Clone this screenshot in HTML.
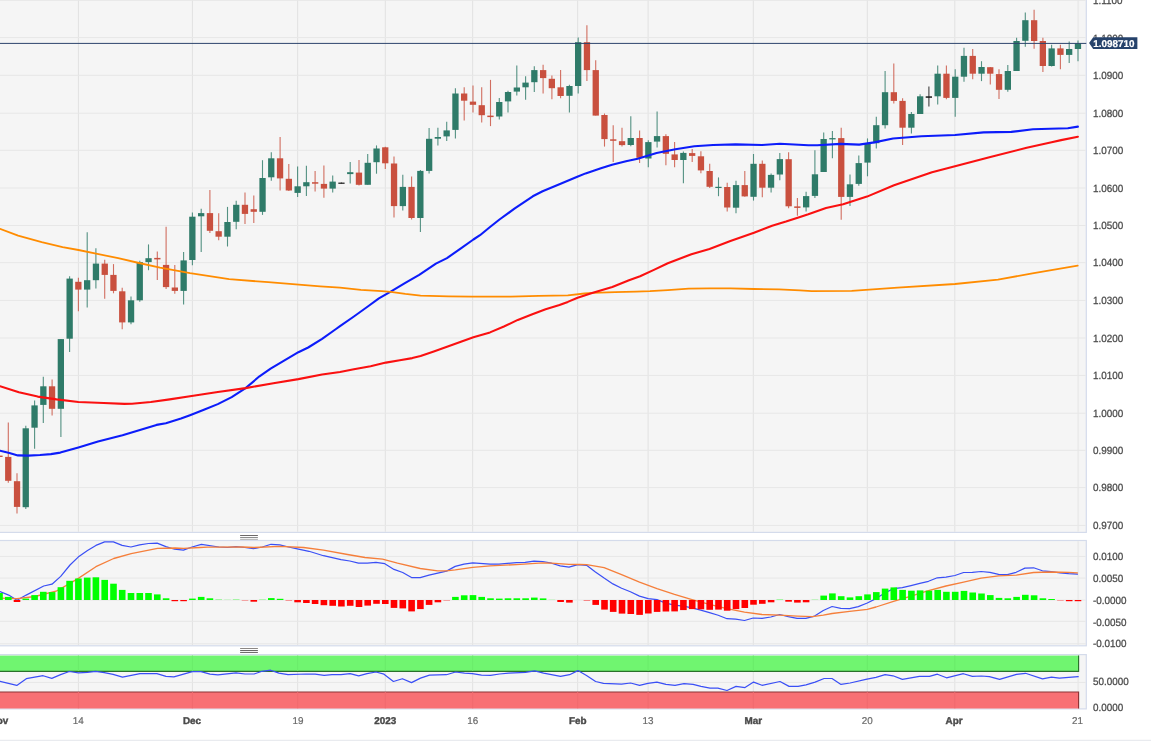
<!DOCTYPE html>
<html lang="en"><head><meta charset="utf-8"><title>EUR/USD daily chart</title>
<style>html,body{margin:0;padding:0;background:#fff}body{width:1151px;height:743px;overflow:hidden}svg{display:block}text{font-family:"Liberation Sans",Arial,sans-serif;text-rendering:geometricPrecision}</style></head><body>
<svg width="1151" height="743" viewBox="0 0 1151 743">
<rect width="1151" height="743" fill="#fff"/>
<rect x="-2" y="-2" width="1088.3" height="534.4" fill="#f5f5f5" stroke="#d4dbeb" stroke-width="1.2"/>
<rect x="-2" y="540.5" width="1088.3" height="105.29999999999995" fill="#f5f5f5" stroke="#d4dbeb" stroke-width="1.2"/>
<rect x="-2" y="654.6" width="1088.3" height="54.299999999999955" fill="#f5f5f5" stroke="#d4dbeb" stroke-width="1.2"/>
<line x1="78.4" y1="0" x2="78.4" y2="531.8" stroke="#e1e1e1" stroke-width="1"/>
<line x1="192.4" y1="0" x2="192.4" y2="531.8" stroke="#e1e1e1" stroke-width="1"/>
<line x1="297.7" y1="0" x2="297.7" y2="531.8" stroke="#e1e1e1" stroke-width="1"/>
<line x1="385.3" y1="0" x2="385.3" y2="531.8" stroke="#e1e1e1" stroke-width="1"/>
<line x1="472.7" y1="0" x2="472.7" y2="531.8" stroke="#e1e1e1" stroke-width="1"/>
<line x1="577.7" y1="0" x2="577.7" y2="531.8" stroke="#e1e1e1" stroke-width="1"/>
<line x1="648.1" y1="0" x2="648.1" y2="531.8" stroke="#e1e1e1" stroke-width="1"/>
<line x1="753.3" y1="0" x2="753.3" y2="531.8" stroke="#e1e1e1" stroke-width="1"/>
<line x1="867.3" y1="0" x2="867.3" y2="531.8" stroke="#e1e1e1" stroke-width="1"/>
<line x1="954.8" y1="0" x2="954.8" y2="531.8" stroke="#e1e1e1" stroke-width="1"/>
<line x1="1078.2" y1="0" x2="1078.2" y2="531.8" stroke="#ebebeb" stroke-width="1.8"/>
<line x1="0" y1="0.3" x2="1085.7" y2="0.3" stroke="#e7e7e7" stroke-width="1"/>
<line x1="0" y1="37.6" x2="1085.7" y2="37.6" stroke="#e7e7e7" stroke-width="1"/>
<line x1="0" y1="75.3" x2="1085.7" y2="75.3" stroke="#e7e7e7" stroke-width="1"/>
<line x1="0" y1="113.2" x2="1085.7" y2="113.2" stroke="#e7e7e7" stroke-width="1"/>
<line x1="0" y1="150.3" x2="1085.7" y2="150.3" stroke="#e7e7e7" stroke-width="1"/>
<line x1="0" y1="188.0" x2="1085.7" y2="188.0" stroke="#e7e7e7" stroke-width="1"/>
<line x1="0" y1="225.5" x2="1085.7" y2="225.5" stroke="#e7e7e7" stroke-width="1"/>
<line x1="0" y1="262.7" x2="1085.7" y2="262.7" stroke="#e7e7e7" stroke-width="1"/>
<line x1="0" y1="300.4" x2="1085.7" y2="300.4" stroke="#e7e7e7" stroke-width="1"/>
<line x1="0" y1="338.0" x2="1085.7" y2="338.0" stroke="#e7e7e7" stroke-width="1"/>
<line x1="0" y1="375.4" x2="1085.7" y2="375.4" stroke="#e7e7e7" stroke-width="1"/>
<line x1="0" y1="413.2" x2="1085.7" y2="413.2" stroke="#e7e7e7" stroke-width="1"/>
<line x1="0" y1="450.3" x2="1085.7" y2="450.3" stroke="#e7e7e7" stroke-width="1"/>
<line x1="0" y1="487.6" x2="1085.7" y2="487.6" stroke="#e7e7e7" stroke-width="1"/>
<line x1="0" y1="525.4" x2="1085.7" y2="525.4" stroke="#e7e7e7" stroke-width="1"/>
<line x1="78.4" y1="541.1" x2="78.4" y2="645.2" stroke="#e1e1e1" stroke-width="1"/>
<line x1="192.4" y1="541.1" x2="192.4" y2="645.2" stroke="#e1e1e1" stroke-width="1"/>
<line x1="297.7" y1="541.1" x2="297.7" y2="645.2" stroke="#e1e1e1" stroke-width="1"/>
<line x1="385.3" y1="541.1" x2="385.3" y2="645.2" stroke="#e1e1e1" stroke-width="1"/>
<line x1="472.7" y1="541.1" x2="472.7" y2="645.2" stroke="#e1e1e1" stroke-width="1"/>
<line x1="577.7" y1="541.1" x2="577.7" y2="645.2" stroke="#e1e1e1" stroke-width="1"/>
<line x1="648.1" y1="541.1" x2="648.1" y2="645.2" stroke="#e1e1e1" stroke-width="1"/>
<line x1="753.3" y1="541.1" x2="753.3" y2="645.2" stroke="#e1e1e1" stroke-width="1"/>
<line x1="867.3" y1="541.1" x2="867.3" y2="645.2" stroke="#e1e1e1" stroke-width="1"/>
<line x1="954.8" y1="541.1" x2="954.8" y2="645.2" stroke="#e1e1e1" stroke-width="1"/>
<line x1="1078.2" y1="541.1" x2="1078.2" y2="645.2" stroke="#ebebeb" stroke-width="1.8"/>
<line x1="0" y1="556.4" x2="1085.7" y2="556.4" stroke="#e7e7e7" stroke-width="1"/>
<line x1="0" y1="578.1" x2="1085.7" y2="578.1" stroke="#e7e7e7" stroke-width="1"/>
<line x1="0" y1="600.1" x2="1085.7" y2="600.1" stroke="#e7e7e7" stroke-width="1"/>
<line x1="0" y1="621.3" x2="1085.7" y2="621.3" stroke="#e7e7e7" stroke-width="1"/>
<line x1="0" y1="643.8" x2="1085.7" y2="643.8" stroke="#e7e7e7" stroke-width="1"/>
<line x1="78.4" y1="655.2" x2="78.4" y2="708.3" stroke="#e1e1e1" stroke-width="1"/>
<line x1="192.4" y1="655.2" x2="192.4" y2="708.3" stroke="#e1e1e1" stroke-width="1"/>
<line x1="297.7" y1="655.2" x2="297.7" y2="708.3" stroke="#e1e1e1" stroke-width="1"/>
<line x1="385.3" y1="655.2" x2="385.3" y2="708.3" stroke="#e1e1e1" stroke-width="1"/>
<line x1="472.7" y1="655.2" x2="472.7" y2="708.3" stroke="#e1e1e1" stroke-width="1"/>
<line x1="577.7" y1="655.2" x2="577.7" y2="708.3" stroke="#e1e1e1" stroke-width="1"/>
<line x1="648.1" y1="655.2" x2="648.1" y2="708.3" stroke="#e1e1e1" stroke-width="1"/>
<line x1="753.3" y1="655.2" x2="753.3" y2="708.3" stroke="#e1e1e1" stroke-width="1"/>
<line x1="867.3" y1="655.2" x2="867.3" y2="708.3" stroke="#e1e1e1" stroke-width="1"/>
<line x1="954.8" y1="655.2" x2="954.8" y2="708.3" stroke="#e1e1e1" stroke-width="1"/>
<line x1="1078.2" y1="655.2" x2="1078.2" y2="708.3" stroke="#ebebeb" stroke-width="1.8"/>
<line x1="-0.5" y1="455.6" x2="-0.5" y2="457.0" stroke="#c9503f" stroke-width="1.1" stroke-opacity="0.82"/>
<rect x="-3.7" y="455.6" width="6.3" height="1.4" fill="#c9503f"/>
<line x1="8.3" y1="422.4" x2="8.3" y2="482.7" stroke="#c9503f" stroke-width="1.1" stroke-opacity="0.82"/>
<rect x="5.1" y="456.9" width="6.3" height="23.9" fill="#c9503f"/>
<line x1="17.0" y1="473.3" x2="17.0" y2="513.5" stroke="#c9503f" stroke-width="1.1" stroke-opacity="0.82"/>
<rect x="13.9" y="481.2" width="6.3" height="25.7" fill="#c9503f"/>
<line x1="25.8" y1="425.8" x2="25.8" y2="509.1" stroke="#2f7b69" stroke-width="1.1" stroke-opacity="0.82"/>
<rect x="22.6" y="428.3" width="6.3" height="78.9" fill="#2f7b69"/>
<line x1="34.6" y1="400.4" x2="34.6" y2="448.8" stroke="#2f7b69" stroke-width="1.1" stroke-opacity="0.82"/>
<rect x="31.4" y="405.4" width="6.3" height="22.3" fill="#2f7b69"/>
<line x1="43.3" y1="376.8" x2="43.3" y2="423.0" stroke="#2f7b69" stroke-width="1.1" stroke-opacity="0.82"/>
<rect x="40.2" y="386.3" width="6.3" height="18.6" fill="#2f7b69"/>
<line x1="52.1" y1="379.5" x2="52.1" y2="415.4" stroke="#c9503f" stroke-width="1.1" stroke-opacity="0.82"/>
<rect x="48.9" y="386.3" width="6.3" height="22.5" fill="#c9503f"/>
<line x1="60.9" y1="339.1" x2="60.9" y2="437.1" stroke="#2f7b69" stroke-width="1.1" stroke-opacity="0.82"/>
<rect x="57.7" y="339.1" width="6.3" height="69.7" fill="#2f7b69"/>
<line x1="69.6" y1="276.2" x2="69.6" y2="351.9" stroke="#2f7b69" stroke-width="1.1" stroke-opacity="0.82"/>
<rect x="66.5" y="278.6" width="6.3" height="60.1" fill="#2f7b69"/>
<line x1="78.4" y1="277.7" x2="78.4" y2="311.3" stroke="#c9503f" stroke-width="1.1" stroke-opacity="0.82"/>
<rect x="75.2" y="281.8" width="6.3" height="7.8" fill="#c9503f"/>
<line x1="87.2" y1="232.2" x2="87.2" y2="307.5" stroke="#2f7b69" stroke-width="1.1" stroke-opacity="0.82"/>
<rect x="84.0" y="280.2" width="6.3" height="9.4" fill="#2f7b69"/>
<line x1="95.9" y1="248.2" x2="95.9" y2="288.6" stroke="#2f7b69" stroke-width="1.1" stroke-opacity="0.82"/>
<rect x="92.8" y="263.6" width="6.3" height="16.6" fill="#2f7b69"/>
<line x1="104.7" y1="259.8" x2="104.7" y2="298.8" stroke="#c9503f" stroke-width="1.1" stroke-opacity="0.82"/>
<rect x="101.6" y="263.6" width="6.3" height="11.3" fill="#c9503f"/>
<line x1="113.5" y1="264.1" x2="113.5" y2="293.3" stroke="#c9503f" stroke-width="1.1" stroke-opacity="0.82"/>
<rect x="110.3" y="274.9" width="6.3" height="16.0" fill="#c9503f"/>
<line x1="122.2" y1="287.7" x2="122.2" y2="329.2" stroke="#c9503f" stroke-width="1.1" stroke-opacity="0.82"/>
<rect x="119.1" y="291.3" width="6.3" height="31.1" fill="#c9503f"/>
<line x1="131.0" y1="296.6" x2="131.0" y2="324.3" stroke="#2f7b69" stroke-width="1.1" stroke-opacity="0.82"/>
<rect x="127.9" y="300.3" width="6.3" height="22.1" fill="#2f7b69"/>
<line x1="139.8" y1="260.7" x2="139.8" y2="301.8" stroke="#2f7b69" stroke-width="1.1" stroke-opacity="0.82"/>
<rect x="136.6" y="262.1" width="6.3" height="38.2" fill="#2f7b69"/>
<line x1="148.5" y1="244.4" x2="148.5" y2="270.2" stroke="#2f7b69" stroke-width="1.1" stroke-opacity="0.82"/>
<rect x="145.4" y="258.2" width="6.3" height="3.9" fill="#2f7b69"/>
<line x1="157.3" y1="251.6" x2="157.3" y2="280.0" stroke="#c9503f" stroke-width="1.1" stroke-opacity="0.82"/>
<rect x="154.2" y="257.9" width="6.3" height="1.5" fill="#c9503f"/>
<line x1="166.1" y1="226.7" x2="166.1" y2="289.0" stroke="#c9503f" stroke-width="1.1" stroke-opacity="0.82"/>
<rect x="162.9" y="264.9" width="6.3" height="22.2" fill="#c9503f"/>
<line x1="174.8" y1="265.1" x2="174.8" y2="293.7" stroke="#c9503f" stroke-width="1.1" stroke-opacity="0.82"/>
<rect x="171.7" y="287.5" width="6.3" height="3.4" fill="#c9503f"/>
<line x1="183.6" y1="251.9" x2="183.6" y2="304.5" stroke="#2f7b69" stroke-width="1.1" stroke-opacity="0.82"/>
<rect x="180.5" y="260.4" width="6.3" height="30.5" fill="#2f7b69"/>
<line x1="192.4" y1="212.4" x2="192.4" y2="265.3" stroke="#2f7b69" stroke-width="1.1" stroke-opacity="0.82"/>
<rect x="189.2" y="216.7" width="6.3" height="43.3" fill="#2f7b69"/>
<line x1="201.2" y1="208.8" x2="201.2" y2="252.0" stroke="#2f7b69" stroke-width="1.1" stroke-opacity="0.82"/>
<rect x="198.0" y="213.1" width="6.3" height="3.2" fill="#2f7b69"/>
<line x1="209.9" y1="189.9" x2="209.9" y2="233.1" stroke="#c9503f" stroke-width="1.1" stroke-opacity="0.82"/>
<rect x="206.8" y="213.1" width="6.3" height="17.7" fill="#c9503f"/>
<line x1="218.7" y1="213.3" x2="218.7" y2="240.3" stroke="#c9503f" stroke-width="1.1" stroke-opacity="0.82"/>
<rect x="215.5" y="231.2" width="6.3" height="5.5" fill="#c9503f"/>
<line x1="227.5" y1="206.9" x2="227.5" y2="246.5" stroke="#2f7b69" stroke-width="1.1" stroke-opacity="0.82"/>
<rect x="224.3" y="222.0" width="6.3" height="14.7" fill="#2f7b69"/>
<line x1="236.2" y1="200.7" x2="236.2" y2="229.3" stroke="#2f7b69" stroke-width="1.1" stroke-opacity="0.82"/>
<rect x="233.1" y="204.8" width="6.3" height="17.0" fill="#2f7b69"/>
<line x1="245.0" y1="192.6" x2="245.0" y2="223.9" stroke="#c9503f" stroke-width="1.1" stroke-opacity="0.82"/>
<rect x="241.8" y="204.8" width="6.3" height="9.1" fill="#c9503f"/>
<line x1="253.8" y1="195.4" x2="253.8" y2="223.1" stroke="#c9503f" stroke-width="1.1" stroke-opacity="0.82"/>
<rect x="250.6" y="209.2" width="6.3" height="2.6" fill="#c9503f"/>
<line x1="262.5" y1="160.2" x2="262.5" y2="214.9" stroke="#2f7b69" stroke-width="1.1" stroke-opacity="0.82"/>
<rect x="259.4" y="178.0" width="6.3" height="33.8" fill="#2f7b69"/>
<line x1="271.3" y1="152.2" x2="271.3" y2="180.7" stroke="#2f7b69" stroke-width="1.1" stroke-opacity="0.82"/>
<rect x="268.1" y="158.3" width="6.3" height="19.0" fill="#2f7b69"/>
<line x1="280.1" y1="137.0" x2="280.1" y2="190.5" stroke="#c9503f" stroke-width="1.1" stroke-opacity="0.82"/>
<rect x="276.9" y="158.3" width="6.3" height="20.1" fill="#c9503f"/>
<line x1="288.8" y1="163.9" x2="288.8" y2="191.0" stroke="#c9503f" stroke-width="1.1" stroke-opacity="0.82"/>
<rect x="285.7" y="178.8" width="6.3" height="11.7" fill="#c9503f"/>
<line x1="297.6" y1="166.6" x2="297.6" y2="197.1" stroke="#2f7b69" stroke-width="1.1" stroke-opacity="0.82"/>
<rect x="294.5" y="186.3" width="6.3" height="6.6" fill="#2f7b69"/>
<line x1="306.4" y1="165.8" x2="306.4" y2="196.1" stroke="#2f7b69" stroke-width="1.1" stroke-opacity="0.82"/>
<rect x="303.2" y="182.2" width="6.3" height="4.1" fill="#2f7b69"/>
<line x1="315.1" y1="170.9" x2="315.1" y2="191.4" stroke="#c9503f" stroke-width="1.1" stroke-opacity="0.82"/>
<rect x="312.0" y="182.2" width="6.3" height="1.5" fill="#c9503f"/>
<line x1="323.9" y1="165.6" x2="323.9" y2="197.8" stroke="#c9503f" stroke-width="1.1" stroke-opacity="0.82"/>
<rect x="320.8" y="183.9" width="6.3" height="4.7" fill="#c9503f"/>
<line x1="332.7" y1="175.4" x2="332.7" y2="192.4" stroke="#2f7b69" stroke-width="1.1" stroke-opacity="0.82"/>
<rect x="329.5" y="181.6" width="6.3" height="7.0" fill="#2f7b69"/>
<line x1="341.4" y1="182.6" x2="341.4" y2="183.6" stroke="#1a1a1a" stroke-width="1.1" stroke-opacity="0.82"/>
<rect x="338.3" y="182.6" width="6.3" height="1.2" fill="#1a1a1a"/>
<line x1="350.2" y1="162.0" x2="350.2" y2="183.5" stroke="#2f7b69" stroke-width="1.1" stroke-opacity="0.82"/>
<rect x="347.1" y="172.2" width="6.3" height="1.9" fill="#2f7b69"/>
<line x1="359.0" y1="160.1" x2="359.0" y2="185.4" stroke="#c9503f" stroke-width="1.1" stroke-opacity="0.82"/>
<rect x="355.8" y="172.6" width="6.3" height="12.2" fill="#c9503f"/>
<line x1="367.7" y1="153.9" x2="367.7" y2="184.8" stroke="#2f7b69" stroke-width="1.1" stroke-opacity="0.82"/>
<rect x="364.6" y="162.8" width="6.3" height="22.0" fill="#2f7b69"/>
<line x1="376.5" y1="145.4" x2="376.5" y2="173.7" stroke="#2f7b69" stroke-width="1.1" stroke-opacity="0.82"/>
<rect x="373.4" y="148.5" width="6.3" height="13.7" fill="#2f7b69"/>
<line x1="385.3" y1="146.8" x2="385.3" y2="169.0" stroke="#c9503f" stroke-width="1.1" stroke-opacity="0.82"/>
<rect x="382.1" y="147.3" width="6.3" height="16.0" fill="#c9503f"/>
<line x1="394.0" y1="156.6" x2="394.0" y2="217.6" stroke="#c9503f" stroke-width="1.1" stroke-opacity="0.82"/>
<rect x="390.9" y="163.5" width="6.3" height="42.6" fill="#c9503f"/>
<line x1="402.8" y1="174.7" x2="402.8" y2="210.5" stroke="#2f7b69" stroke-width="1.1" stroke-opacity="0.82"/>
<rect x="399.7" y="186.9" width="6.3" height="19.2" fill="#2f7b69"/>
<line x1="411.6" y1="176.4" x2="411.6" y2="219.5" stroke="#c9503f" stroke-width="1.1" stroke-opacity="0.82"/>
<rect x="408.4" y="186.9" width="6.3" height="31.1" fill="#c9503f"/>
<line x1="420.4" y1="169.9" x2="420.4" y2="232.1" stroke="#2f7b69" stroke-width="1.1" stroke-opacity="0.82"/>
<rect x="417.2" y="170.9" width="6.3" height="47.1" fill="#2f7b69"/>
<line x1="429.1" y1="127.9" x2="429.1" y2="173.5" stroke="#2f7b69" stroke-width="1.1" stroke-opacity="0.82"/>
<rect x="426.0" y="138.8" width="6.3" height="32.1" fill="#2f7b69"/>
<line x1="437.9" y1="127.8" x2="437.9" y2="145.6" stroke="#2f7b69" stroke-width="1.1" stroke-opacity="0.82"/>
<rect x="434.7" y="137.0" width="6.3" height="1.7" fill="#2f7b69"/>
<line x1="446.7" y1="121.7" x2="446.7" y2="141.1" stroke="#2f7b69" stroke-width="1.1" stroke-opacity="0.82"/>
<rect x="443.5" y="130.4" width="6.3" height="6.0" fill="#2f7b69"/>
<line x1="455.4" y1="88.2" x2="455.4" y2="138.4" stroke="#2f7b69" stroke-width="1.1" stroke-opacity="0.82"/>
<rect x="452.3" y="93.5" width="6.3" height="36.4" fill="#2f7b69"/>
<line x1="464.2" y1="87.3" x2="464.2" y2="120.5" stroke="#c9503f" stroke-width="1.1" stroke-opacity="0.82"/>
<rect x="461.0" y="93.5" width="6.3" height="7.2" fill="#c9503f"/>
<line x1="473.0" y1="85.4" x2="473.0" y2="112.4" stroke="#c9503f" stroke-width="1.1" stroke-opacity="0.82"/>
<rect x="469.8" y="101.6" width="6.3" height="3.2" fill="#c9503f"/>
<line x1="481.7" y1="87.3" x2="481.7" y2="122.4" stroke="#c9503f" stroke-width="1.1" stroke-opacity="0.82"/>
<rect x="478.6" y="105.2" width="6.3" height="10.0" fill="#c9503f"/>
<line x1="490.5" y1="79.9" x2="490.5" y2="126.1" stroke="#c9503f" stroke-width="1.1" stroke-opacity="0.82"/>
<rect x="487.3" y="115.6" width="6.3" height="1.5" fill="#c9503f"/>
<line x1="499.3" y1="97.9" x2="499.3" y2="119.5" stroke="#2f7b69" stroke-width="1.1" stroke-opacity="0.82"/>
<rect x="496.1" y="102.0" width="6.3" height="14.5" fill="#2f7b69"/>
<line x1="508.0" y1="90.7" x2="508.0" y2="112.4" stroke="#2f7b69" stroke-width="1.1" stroke-opacity="0.82"/>
<rect x="504.9" y="92.0" width="6.3" height="9.4" fill="#2f7b69"/>
<line x1="516.8" y1="65.6" x2="516.8" y2="95.4" stroke="#2f7b69" stroke-width="1.1" stroke-opacity="0.82"/>
<rect x="513.7" y="87.5" width="6.3" height="4.1" fill="#2f7b69"/>
<line x1="525.6" y1="76.2" x2="525.6" y2="99.7" stroke="#2f7b69" stroke-width="1.1" stroke-opacity="0.82"/>
<rect x="522.4" y="82.6" width="6.3" height="4.7" fill="#2f7b69"/>
<line x1="534.3" y1="66.2" x2="534.3" y2="92.0" stroke="#2f7b69" stroke-width="1.1" stroke-opacity="0.82"/>
<rect x="531.2" y="70.1" width="6.3" height="12.1" fill="#2f7b69"/>
<line x1="543.1" y1="64.7" x2="543.1" y2="93.5" stroke="#c9503f" stroke-width="1.1" stroke-opacity="0.82"/>
<rect x="540.0" y="70.1" width="6.3" height="8.0" fill="#c9503f"/>
<line x1="551.9" y1="75.6" x2="551.9" y2="99.2" stroke="#c9503f" stroke-width="1.1" stroke-opacity="0.82"/>
<rect x="548.7" y="78.8" width="6.3" height="9.4" fill="#c9503f"/>
<line x1="560.6" y1="70.1" x2="560.6" y2="98.2" stroke="#c9503f" stroke-width="1.1" stroke-opacity="0.82"/>
<rect x="557.5" y="87.3" width="6.3" height="8.7" fill="#c9503f"/>
<line x1="569.4" y1="84.7" x2="569.4" y2="112.4" stroke="#2f7b69" stroke-width="1.1" stroke-opacity="0.82"/>
<rect x="566.3" y="86.0" width="6.3" height="9.8" fill="#2f7b69"/>
<line x1="578.2" y1="37.5" x2="578.2" y2="93.5" stroke="#2f7b69" stroke-width="1.1" stroke-opacity="0.82"/>
<rect x="575.0" y="42.2" width="6.3" height="43.8" fill="#2f7b69"/>
<line x1="586.9" y1="25.3" x2="586.9" y2="80.9" stroke="#c9503f" stroke-width="1.1" stroke-opacity="0.82"/>
<rect x="583.8" y="42.2" width="6.3" height="27.9" fill="#c9503f"/>
<line x1="595.7" y1="60.2" x2="595.7" y2="115.6" stroke="#c9503f" stroke-width="1.1" stroke-opacity="0.82"/>
<rect x="592.6" y="70.1" width="6.3" height="45.5" fill="#c9503f"/>
<line x1="604.5" y1="113.5" x2="604.5" y2="146.6" stroke="#c9503f" stroke-width="1.1" stroke-opacity="0.82"/>
<rect x="601.3" y="115.0" width="6.3" height="24.1" fill="#c9503f"/>
<line x1="613.2" y1="125.2" x2="613.2" y2="161.9" stroke="#c9503f" stroke-width="1.1" stroke-opacity="0.82"/>
<rect x="610.1" y="139.3" width="6.3" height="1.5" fill="#c9503f"/>
<line x1="622.0" y1="127.7" x2="622.0" y2="146.5" stroke="#c9503f" stroke-width="1.1" stroke-opacity="0.82"/>
<rect x="618.9" y="141.2" width="6.3" height="3.9" fill="#c9503f"/>
<line x1="630.8" y1="116.3" x2="630.8" y2="146.3" stroke="#2f7b69" stroke-width="1.1" stroke-opacity="0.82"/>
<rect x="627.6" y="138.0" width="6.3" height="7.0" fill="#2f7b69"/>
<line x1="639.6" y1="130.4" x2="639.6" y2="162.9" stroke="#c9503f" stroke-width="1.1" stroke-opacity="0.82"/>
<rect x="636.4" y="138.0" width="6.3" height="19.8" fill="#c9503f"/>
<line x1="648.3" y1="140.2" x2="648.3" y2="167.2" stroke="#2f7b69" stroke-width="1.1" stroke-opacity="0.82"/>
<rect x="645.2" y="142.1" width="6.3" height="16.4" fill="#2f7b69"/>
<line x1="657.1" y1="111.6" x2="657.1" y2="147.4" stroke="#2f7b69" stroke-width="1.1" stroke-opacity="0.82"/>
<rect x="653.9" y="136.1" width="6.3" height="5.5" fill="#2f7b69"/>
<line x1="665.9" y1="134.2" x2="665.9" y2="165.3" stroke="#c9503f" stroke-width="1.1" stroke-opacity="0.82"/>
<rect x="662.7" y="136.1" width="6.3" height="17.7" fill="#c9503f"/>
<line x1="674.6" y1="142.1" x2="674.6" y2="167.2" stroke="#c9503f" stroke-width="1.1" stroke-opacity="0.82"/>
<rect x="671.5" y="154.4" width="6.3" height="5.6" fill="#c9503f"/>
<line x1="683.4" y1="151.6" x2="683.4" y2="183.2" stroke="#2f7b69" stroke-width="1.1" stroke-opacity="0.82"/>
<rect x="680.2" y="152.9" width="6.3" height="7.1" fill="#2f7b69"/>
<line x1="692.2" y1="149.1" x2="692.2" y2="161.9" stroke="#c9503f" stroke-width="1.1" stroke-opacity="0.82"/>
<rect x="689.0" y="153.1" width="6.3" height="2.8" fill="#c9503f"/>
<line x1="700.9" y1="151.2" x2="700.9" y2="173.2" stroke="#c9503f" stroke-width="1.1" stroke-opacity="0.82"/>
<rect x="697.8" y="156.3" width="6.3" height="14.1" fill="#c9503f"/>
<line x1="709.7" y1="163.8" x2="709.7" y2="187.9" stroke="#c9503f" stroke-width="1.1" stroke-opacity="0.82"/>
<rect x="706.5" y="171.0" width="6.3" height="15.8" fill="#c9503f"/>
<line x1="718.5" y1="177.4" x2="718.5" y2="196.2" stroke="#2f7b69" stroke-width="1.1" stroke-opacity="0.82"/>
<rect x="715.3" y="186.8" width="6.3" height="1.2" fill="#2f7b69"/>
<line x1="727.2" y1="182.7" x2="727.2" y2="211.5" stroke="#c9503f" stroke-width="1.1" stroke-opacity="0.82"/>
<rect x="724.1" y="187.0" width="6.3" height="20.5" fill="#c9503f"/>
<line x1="736.0" y1="180.8" x2="736.0" y2="213.2" stroke="#2f7b69" stroke-width="1.1" stroke-opacity="0.82"/>
<rect x="732.9" y="185.1" width="6.3" height="22.6" fill="#2f7b69"/>
<line x1="744.8" y1="171.0" x2="744.8" y2="196.8" stroke="#c9503f" stroke-width="1.1" stroke-opacity="0.82"/>
<rect x="741.6" y="185.1" width="6.3" height="11.3" fill="#c9503f"/>
<line x1="753.5" y1="154.0" x2="753.5" y2="200.6" stroke="#2f7b69" stroke-width="1.1" stroke-opacity="0.82"/>
<rect x="750.4" y="163.8" width="6.3" height="33.0" fill="#2f7b69"/>
<line x1="762.3" y1="160.4" x2="762.3" y2="197.2" stroke="#c9503f" stroke-width="1.1" stroke-opacity="0.82"/>
<rect x="759.2" y="163.8" width="6.3" height="23.9" fill="#c9503f"/>
<line x1="771.1" y1="173.6" x2="771.1" y2="192.5" stroke="#2f7b69" stroke-width="1.1" stroke-opacity="0.82"/>
<rect x="767.9" y="174.9" width="6.3" height="12.8" fill="#2f7b69"/>
<line x1="779.8" y1="153.1" x2="779.8" y2="180.2" stroke="#2f7b69" stroke-width="1.1" stroke-opacity="0.82"/>
<rect x="776.7" y="159.1" width="6.3" height="15.4" fill="#2f7b69"/>
<line x1="788.6" y1="152.2" x2="788.6" y2="208.2" stroke="#c9503f" stroke-width="1.1" stroke-opacity="0.82"/>
<rect x="785.5" y="159.2" width="6.3" height="47.1" fill="#c9503f"/>
<line x1="797.4" y1="198.0" x2="797.4" y2="215.8" stroke="#c9503f" stroke-width="1.1" stroke-opacity="0.82"/>
<rect x="794.2" y="206.4" width="6.3" height="1.5" fill="#c9503f"/>
<line x1="806.1" y1="191.8" x2="806.1" y2="211.6" stroke="#2f7b69" stroke-width="1.1" stroke-opacity="0.82"/>
<rect x="803.0" y="196.1" width="6.3" height="11.3" fill="#2f7b69"/>
<line x1="814.9" y1="150.3" x2="814.9" y2="198.0" stroke="#2f7b69" stroke-width="1.1" stroke-opacity="0.82"/>
<rect x="811.8" y="174.3" width="6.3" height="21.6" fill="#2f7b69"/>
<line x1="823.7" y1="132.4" x2="823.7" y2="172.0" stroke="#2f7b69" stroke-width="1.1" stroke-opacity="0.82"/>
<rect x="820.5" y="139.0" width="6.3" height="33.0" fill="#2f7b69"/>
<line x1="832.4" y1="131.1" x2="832.4" y2="158.2" stroke="#2f7b69" stroke-width="1.1" stroke-opacity="0.82"/>
<rect x="829.3" y="138.1" width="6.3" height="1.3" fill="#2f7b69"/>
<line x1="841.2" y1="127.7" x2="841.2" y2="219.7" stroke="#c9503f" stroke-width="1.1" stroke-opacity="0.82"/>
<rect x="838.1" y="138.1" width="6.3" height="58.8" fill="#c9503f"/>
<line x1="850.0" y1="174.4" x2="850.0" y2="205.9" stroke="#2f7b69" stroke-width="1.1" stroke-opacity="0.82"/>
<rect x="846.8" y="184.3" width="6.3" height="12.6" fill="#2f7b69"/>
<line x1="858.8" y1="155.4" x2="858.8" y2="185.8" stroke="#2f7b69" stroke-width="1.1" stroke-opacity="0.82"/>
<rect x="855.6" y="163.1" width="6.3" height="20.8" fill="#2f7b69"/>
<line x1="867.5" y1="138.4" x2="867.5" y2="176.3" stroke="#2f7b69" stroke-width="1.1" stroke-opacity="0.82"/>
<rect x="864.4" y="143.7" width="6.3" height="18.9" fill="#2f7b69"/>
<line x1="876.3" y1="116.8" x2="876.3" y2="148.4" stroke="#2f7b69" stroke-width="1.1" stroke-opacity="0.82"/>
<rect x="873.1" y="125.2" width="6.3" height="18.0" fill="#2f7b69"/>
<line x1="885.1" y1="71.0" x2="885.1" y2="128.6" stroke="#2f7b69" stroke-width="1.1" stroke-opacity="0.82"/>
<rect x="881.9" y="92.2" width="6.3" height="33.0" fill="#2f7b69"/>
<line x1="893.8" y1="63.6" x2="893.8" y2="103.5" stroke="#c9503f" stroke-width="1.1" stroke-opacity="0.82"/>
<rect x="890.7" y="92.2" width="6.3" height="8.7" fill="#c9503f"/>
<line x1="902.6" y1="98.2" x2="902.6" y2="145.0" stroke="#c9503f" stroke-width="1.1" stroke-opacity="0.82"/>
<rect x="899.4" y="100.9" width="6.3" height="26.8" fill="#c9503f"/>
<line x1="911.4" y1="112.1" x2="911.4" y2="133.5" stroke="#2f7b69" stroke-width="1.1" stroke-opacity="0.82"/>
<rect x="908.2" y="114.0" width="6.3" height="13.7" fill="#2f7b69"/>
<line x1="920.1" y1="94.2" x2="920.1" y2="114.0" stroke="#2f7b69" stroke-width="1.1" stroke-opacity="0.82"/>
<rect x="917.0" y="96.3" width="6.3" height="17.7" fill="#2f7b69"/>
<line x1="928.9" y1="86.4" x2="928.9" y2="106.4" stroke="#1a1a1a" stroke-width="1.1" stroke-opacity="0.82"/>
<rect x="925.7" y="96.3" width="6.3" height="1.5" fill="#1a1a1a"/>
<line x1="937.7" y1="65.6" x2="937.7" y2="104.5" stroke="#2f7b69" stroke-width="1.1" stroke-opacity="0.82"/>
<rect x="934.5" y="73.7" width="6.3" height="22.6" fill="#2f7b69"/>
<line x1="946.4" y1="65.6" x2="946.4" y2="99.3" stroke="#c9503f" stroke-width="1.1" stroke-opacity="0.82"/>
<rect x="943.3" y="73.7" width="6.3" height="24.2" fill="#c9503f"/>
<line x1="955.2" y1="69.2" x2="955.2" y2="116.8" stroke="#2f7b69" stroke-width="1.1" stroke-opacity="0.82"/>
<rect x="952.1" y="76.7" width="6.3" height="21.2" fill="#2f7b69"/>
<line x1="964.0" y1="47.8" x2="964.0" y2="81.7" stroke="#2f7b69" stroke-width="1.1" stroke-opacity="0.82"/>
<rect x="960.8" y="55.9" width="6.3" height="20.8" fill="#2f7b69"/>
<line x1="972.7" y1="49.0" x2="972.7" y2="79.3" stroke="#c9503f" stroke-width="1.1" stroke-opacity="0.82"/>
<rect x="969.6" y="55.9" width="6.3" height="17.8" fill="#c9503f"/>
<line x1="981.5" y1="61.2" x2="981.5" y2="81.1" stroke="#2f7b69" stroke-width="1.1" stroke-opacity="0.82"/>
<rect x="978.4" y="67.0" width="6.3" height="6.7" fill="#2f7b69"/>
<line x1="990.3" y1="67.0" x2="990.3" y2="84.4" stroke="#c9503f" stroke-width="1.1" stroke-opacity="0.82"/>
<rect x="987.1" y="67.2" width="6.3" height="6.5" fill="#c9503f"/>
<line x1="999.0" y1="69.2" x2="999.0" y2="98.9" stroke="#c9503f" stroke-width="1.1" stroke-opacity="0.82"/>
<rect x="995.9" y="74.1" width="6.3" height="15.7" fill="#c9503f"/>
<line x1="1007.8" y1="65.0" x2="1007.8" y2="91.8" stroke="#2f7b69" stroke-width="1.1" stroke-opacity="0.82"/>
<rect x="1004.7" y="71.0" width="6.3" height="18.8" fill="#2f7b69"/>
<line x1="1016.6" y1="37.7" x2="1016.6" y2="71.0" stroke="#2f7b69" stroke-width="1.1" stroke-opacity="0.82"/>
<rect x="1013.4" y="41.0" width="6.3" height="30.0" fill="#2f7b69"/>
<line x1="1025.3" y1="12.5" x2="1025.3" y2="46.8" stroke="#2f7b69" stroke-width="1.1" stroke-opacity="0.82"/>
<rect x="1022.2" y="20.2" width="6.3" height="20.6" fill="#2f7b69"/>
<line x1="1034.1" y1="9.7" x2="1034.1" y2="48.8" stroke="#c9503f" stroke-width="1.1" stroke-opacity="0.82"/>
<rect x="1031.0" y="20.2" width="6.3" height="20.8" fill="#c9503f"/>
<line x1="1042.9" y1="37.7" x2="1042.9" y2="72.0" stroke="#c9503f" stroke-width="1.1" stroke-opacity="0.82"/>
<rect x="1039.7" y="41.0" width="6.3" height="25.0" fill="#c9503f"/>
<line x1="1051.6" y1="44.8" x2="1051.6" y2="66.6" stroke="#2f7b69" stroke-width="1.1" stroke-opacity="0.82"/>
<rect x="1048.5" y="48.4" width="6.3" height="17.6" fill="#2f7b69"/>
<line x1="1060.4" y1="44.8" x2="1060.4" y2="69.2" stroke="#c9503f" stroke-width="1.1" stroke-opacity="0.82"/>
<rect x="1057.3" y="48.4" width="6.3" height="6.5" fill="#c9503f"/>
<line x1="1069.2" y1="41.4" x2="1069.2" y2="63.0" stroke="#2f7b69" stroke-width="1.1" stroke-opacity="0.82"/>
<rect x="1066.0" y="49.0" width="6.3" height="5.9" fill="#2f7b69"/>
<line x1="1078.0" y1="40.4" x2="1078.0" y2="61.2" stroke="#2f7b69" stroke-width="1.1" stroke-opacity="0.82"/>
<rect x="1074.8" y="43.4" width="6.3" height="5.6" fill="#2f7b69"/>
<line x1="0" y1="43.4" x2="1086.3" y2="43.4" stroke="#2c446c" stroke-width="1"/>
<path d="M0.0,450.7 L9.4,453.1 L17.9,455.4 L28.3,455.6 L40.0,455.0 L50.9,454.1 L60.3,452.6 L78.4,447.5 L98.0,441.6 L122.5,435.2 L156.5,424.9 L165.9,423.2 L181.0,418.6 L190.0,415.2 L203.9,409.7 L217.8,404.1 L231.7,397.1 L245.6,388.1 L259.5,376.3 L270.6,368.7 L284.5,360.3 L298.4,352.2 L308.2,347.5 L322.1,338.8 L336.0,329.0 L340.0,326.2 L353.9,316.5 L367.8,306.5 L378.9,298.4 L390.7,291.6 L405.3,282.8 L419.2,274.8 L435.9,263.6 L447.0,258.1 L460.9,248.3 L473.4,239.5 L480.0,235.2 L489.7,227.3 L499.5,219.5 L514.8,208.4 L532.8,196.3 L542.6,191.2 L560.6,183.8 L577.3,176.8 L585.6,173.4 L600.9,168.3 L612.1,164.8 L626.0,161.3 L637.7,158.7 L656.6,153.0 L675.4,149.2 L694.3,146.3 L713.1,145.0 L735.7,144.4 L762.1,145.0 L780.0,143.8 L808.3,145.2 L817.3,145.2 L840.3,143.9 L859.2,144.6 L874.3,142.4 L893.1,138.5 L921.4,136.3 L955.0,135.0 L983.6,132.4 L1011.3,131.9 L1033.0,129.3 L1050.0,128.8 L1067.8,128.2 L1077.9,126.6" fill="none" stroke="#0c1cfa" stroke-width="2.1" stroke-linejoin="round" stroke-linecap="round" stroke-opacity="1"/>
<path d="M0.0,228.9 L18.1,235.6 L41.7,242.1 L62.6,247.2 L78.5,250.0 L97.3,253.9 L118.2,258.2 L139.0,263.0 L160.0,267.6 L169.7,269.4 L190.0,273.1 L229.1,279.1 L268.2,282.2 L320.3,286.4 L340.0,287.7 L360.9,289.8 L381.7,291.2 L390.7,291.9 L405.3,293.9 L420.6,295.6 L448.4,296.4 L472.1,296.7 L490.0,296.7 L510.9,296.6 L538.7,295.9 L567.8,295.3 L584.5,293.5 L592.9,292.8 L615.1,292.1 L636.0,291.7 L650.0,291.2 L667.8,290.1 L688.7,288.7 L709.5,288.3 L730.4,288.3 L754.0,289.0 L779.0,289.4 L800.0,290.4 L811.6,291.2 L851.7,290.9 L897.6,287.7 L955.0,284.0 L998.0,279.7 L1032.4,273.4 L1077.7,265.6" fill="none" stroke="#ff8c00" stroke-width="1.8" stroke-linejoin="round" stroke-linecap="round" stroke-opacity="1"/>
<path d="M0.0,386.2 L18.9,392.3 L37.7,396.6 L56.5,399.4 L78.4,402.0 L103.7,403.0 L124.4,403.9 L132.0,403.8 L150.8,402.0 L169.7,399.4 L190.0,396.2 L217.8,392.0 L245.6,388.1 L273.4,383.2 L298.4,379.1 L322.1,374.5 L340.0,372.0 L353.9,369.2 L370.6,366.2 L385.9,362.6 L399.8,360.2 L412.3,358.1 L420.6,356.0 L434.5,351.2 L448.4,346.3 L460.9,341.7 L473.4,337.3 L490.0,332.4 L503.9,326.5 L517.8,319.9 L531.7,314.4 L545.6,309.2 L559.5,305.1 L567.8,301.9 L577.6,297.7 L592.9,292.8 L612.3,287.0 L629.0,280.3 L640.1,276.3 L653.9,269.9 L667.8,263.2 L691.4,254.2 L709.5,248.9 L730.4,241.0 L754.0,232.7 L772.1,225.7 L786.0,221.5 L800.0,216.9 L808.3,214.2 L826.0,208.0 L843.1,204.2 L867.0,196.6 L894.0,185.3 L932.0,172.2 L955.0,166.2 L989.4,157.3 L1026.7,147.8 L1051.6,142.2 L1061.1,140.1 L1077.9,136.7" fill="none" stroke="#fa1010" stroke-width="2.1" stroke-linejoin="round" stroke-linecap="round" stroke-opacity="1"/>
<path d="M0.0,591.6 L8.7,595.1 L17.0,600.3 L26.2,595.1 L43.7,586.0 L52.0,584.2 L60.7,576.4 L70.0,565.0 L78.2,557.1 L87.5,550.6 L95.9,545.4 L104.6,541.9 L113.4,541.9 L122.1,545.4 L130.9,547.0 L139.6,544.9 L148.4,543.5 L157.1,543.1 L165.9,546.6 L174.6,549.2 L183.4,550.1 L192.1,547.0 L201.4,544.3 L218.9,547.0 L227.3,547.5 L236.0,546.6 L244.8,547.5 L253.5,548.7 L262.3,547.0 L271.0,544.3 L279.8,544.9 L288.5,547.0 L297.3,548.9 L309.0,551.3 L323.5,555.7 L341.0,559.7 L349.8,561.0 L358.5,563.2 L367.3,563.2 L376.0,562.4 L384.8,563.7 L394.0,569.4 L402.7,572.5 L411.5,577.6 L420.2,577.6 L429.0,575.1 L446.5,571.1 L455.2,566.4 L464.0,564.1 L472.7,562.9 L490.2,564.1 L499.0,564.1 L516.5,562.7 L525.2,562.4 L534.0,561.1 L542.7,561.5 L551.5,563.2 L560.2,565.9 L569.0,567.1 L577.9,564.6 L586.6,565.3 L595.4,572.0 L604.1,578.1 L612.9,583.9 L621.6,588.3 L630.4,591.8 L639.5,596.1 L648.2,598.6 L657.0,599.6 L665.7,603.1 L674.5,605.2 L683.2,606.1 L692.0,607.9 L700.7,610.1 L709.5,612.6 L718.2,615.2 L727.0,618.7 L735.7,619.2 L744.5,620.5 L753.2,618.0 L762.0,618.4 L770.8,617.0 L779.6,614.5 L788.3,616.6 L797.1,618.4 L805.8,618.4 L814.6,616.1 L823.3,610.5 L832.1,606.5 L840.8,608.4 L849.6,608.7 L858.3,606.6 L867.3,603.0 L876.0,598.6 L884.8,593.0 L893.5,588.6 L902.3,587.7 L911.0,585.6 L919.8,583.4 L928.5,581.3 L937.3,577.8 L946.0,577.2 L954.9,575.5 L963.6,572.5 L972.4,572.3 L981.1,571.5 L989.9,572.3 L998.6,574.3 L1007.4,574.6 L1016.1,572.3 L1024.9,568.1 L1033.6,567.8 L1042.4,570.8 L1051.1,571.6 L1059.9,572.9 L1068.6,573.7 L1077.4,574.1" fill="none" stroke="#3a4ff5" stroke-width="1.2" stroke-linejoin="round" stroke-linecap="round" stroke-opacity="1"/>
<path d="M0.0,598.2 L17.0,598.6 L35.0,596.5 L56.0,591.2 L70.0,583.4 L78.7,578.1 L95.9,566.7 L113.7,558.5 L131.2,553.6 L157.5,548.4 L175.0,548.0 L183.7,548.4 L200.0,547.5 L207.5,547.1 L242.5,547.0 L253.5,547.5 L279.8,546.3 L303.7,547.5 L323.5,550.1 L347.5,554.5 L365.0,557.5 L382.5,559.1 L397.5,563.2 L420.2,568.5 L437.7,570.8 L446.5,570.8 L455.2,569.9 L472.7,567.3 L490.2,565.9 L516.5,564.6 L542.7,562.9 L551.5,563.2 L569.0,564.3 L580.0,564.5 L586.6,564.6 L604.1,567.6 L621.6,574.6 L639.5,582.1 L657.0,588.6 L674.5,594.4 L692.0,599.6 L709.5,604.4 L727.0,608.7 L744.5,612.2 L762.0,614.5 L779.6,615.2 L797.1,616.1 L812.5,616.6 L823.3,615.2 L832.1,613.5 L849.6,611.4 L867.3,609.3 L876.0,607.0 L893.5,601.4 L911.0,596.1 L928.5,590.7 L946.0,586.0 L963.6,582.1 L981.1,578.1 L998.6,575.8 L1016.1,575.1 L1033.6,572.5 L1051.1,572.0 L1068.6,572.3 L1077.4,572.9" fill="none" stroke="#f57f3b" stroke-width="1.3" stroke-linejoin="round" stroke-linecap="round" stroke-opacity="1"/>
<rect x="-3.8" y="593.0" width="6.6" height="7.0" fill="#00ff00" fill-opacity="1.00"/>
<rect x="5.0" y="596.9" width="6.6" height="3.1" fill="#00ff00" fill-opacity="1.00"/>
<rect x="13.7" y="600.0" width="6.6" height="2.0" fill="#ff0000" fill-opacity="1.00"/>
<rect x="22.5" y="598.6" width="6.6" height="1.4" fill="#00ff00" fill-opacity="1.00"/>
<rect x="31.3" y="595.1" width="6.6" height="4.9" fill="#00ff00" fill-opacity="1.00"/>
<rect x="40.0" y="591.8" width="6.6" height="8.2" fill="#00ff00" fill-opacity="1.00"/>
<rect x="48.8" y="592.1" width="6.6" height="7.9" fill="#00ff00" fill-opacity="1.00"/>
<rect x="57.6" y="587.2" width="6.6" height="12.8" fill="#00ff00" fill-opacity="1.00"/>
<rect x="66.3" y="580.8" width="6.6" height="19.2" fill="#00ff00" fill-opacity="1.00"/>
<rect x="75.1" y="578.5" width="6.6" height="21.5" fill="#00ff00" fill-opacity="1.00"/>
<rect x="83.9" y="577.6" width="6.6" height="22.4" fill="#00ff00" fill-opacity="1.00"/>
<rect x="92.6" y="577.3" width="6.6" height="22.7" fill="#00ff00" fill-opacity="1.00"/>
<rect x="101.4" y="579.9" width="6.6" height="20.1" fill="#00ff00" fill-opacity="1.00"/>
<rect x="110.2" y="583.7" width="6.6" height="16.3" fill="#00ff00" fill-opacity="1.00"/>
<rect x="118.9" y="589.9" width="6.6" height="10.1" fill="#00ff00" fill-opacity="1.00"/>
<rect x="127.7" y="593.0" width="6.6" height="7.0" fill="#00ff00" fill-opacity="1.00"/>
<rect x="136.5" y="593.0" width="6.6" height="7.0" fill="#00ff00" fill-opacity="1.00"/>
<rect x="145.2" y="593.0" width="6.6" height="7.0" fill="#00ff00" fill-opacity="1.00"/>
<rect x="154.0" y="594.4" width="6.6" height="5.6" fill="#00ff00" fill-opacity="1.00"/>
<rect x="162.8" y="598.3" width="6.6" height="1.7" fill="#00ff00" fill-opacity="1.00"/>
<rect x="171.5" y="600.0" width="6.6" height="1.2" fill="#ff0000" fill-opacity="1.00"/>
<rect x="180.3" y="600.0" width="6.6" height="1.2" fill="#ff0000" fill-opacity="1.00"/>
<rect x="189.1" y="598.6" width="6.6" height="1.4" fill="#00ff00" fill-opacity="1.00"/>
<rect x="197.9" y="596.9" width="6.6" height="3.1" fill="#00ff00" fill-opacity="1.00"/>
<rect x="206.6" y="598.3" width="6.6" height="1.7" fill="#00ff00" fill-opacity="1.00"/>
<rect x="215.4" y="599.0" width="6.6" height="1.0" fill="#00ff00" fill-opacity="0.31"/>
<rect x="224.2" y="599.0" width="6.6" height="1.0" fill="#00ff00" fill-opacity="0.12"/>
<rect x="232.9" y="599.0" width="6.6" height="1.0" fill="#00ff00" fill-opacity="0.31"/>
<rect x="241.7" y="600.0" width="6.6" height="1.0" fill="#ff0000" fill-opacity="0.31"/>
<rect x="250.5" y="600.0" width="6.6" height="1.7" fill="#ff0000" fill-opacity="1.00"/>
<rect x="259.2" y="599.0" width="6.6" height="1.0" fill="#00ff00" fill-opacity="0.25"/>
<rect x="268.0" y="598.1" width="6.6" height="1.9" fill="#00ff00" fill-opacity="1.00"/>
<rect x="276.8" y="598.8" width="6.6" height="1.2" fill="#00ff00" fill-opacity="1.00"/>
<rect x="285.5" y="600.0" width="6.6" height="1.0" fill="#ff0000" fill-opacity="0.37"/>
<rect x="294.3" y="600.0" width="6.6" height="2.3" fill="#ff0000" fill-opacity="1.00"/>
<rect x="303.1" y="600.0" width="6.6" height="3.0" fill="#ff0000" fill-opacity="1.00"/>
<rect x="311.8" y="600.0" width="6.6" height="4.0" fill="#ff0000" fill-opacity="1.00"/>
<rect x="320.6" y="600.0" width="6.6" height="5.2" fill="#ff0000" fill-opacity="1.00"/>
<rect x="329.4" y="600.0" width="6.6" height="5.8" fill="#ff0000" fill-opacity="1.00"/>
<rect x="338.1" y="600.0" width="6.6" height="6.5" fill="#ff0000" fill-opacity="1.00"/>
<rect x="346.9" y="600.0" width="6.6" height="5.8" fill="#ff0000" fill-opacity="1.00"/>
<rect x="355.7" y="600.0" width="6.6" height="7.0" fill="#ff0000" fill-opacity="1.00"/>
<rect x="364.4" y="600.0" width="6.6" height="5.6" fill="#ff0000" fill-opacity="1.00"/>
<rect x="373.2" y="600.0" width="6.6" height="3.8" fill="#ff0000" fill-opacity="1.00"/>
<rect x="382.0" y="600.0" width="6.6" height="4.0" fill="#ff0000" fill-opacity="1.00"/>
<rect x="390.7" y="600.0" width="6.6" height="7.9" fill="#ff0000" fill-opacity="1.00"/>
<rect x="399.5" y="600.0" width="6.6" height="8.4" fill="#ff0000" fill-opacity="1.00"/>
<rect x="408.3" y="600.0" width="6.6" height="11.4" fill="#ff0000" fill-opacity="1.00"/>
<rect x="417.1" y="600.0" width="6.6" height="9.1" fill="#ff0000" fill-opacity="1.00"/>
<rect x="425.8" y="600.0" width="6.6" height="4.9" fill="#ff0000" fill-opacity="1.00"/>
<rect x="434.6" y="600.0" width="6.6" height="2.3" fill="#ff0000" fill-opacity="1.00"/>
<rect x="443.4" y="600.0" width="6.6" height="1.0" fill="#ff0000" fill-opacity="0.31"/>
<rect x="452.1" y="596.9" width="6.6" height="3.1" fill="#00ff00" fill-opacity="1.00"/>
<rect x="460.9" y="595.3" width="6.6" height="4.7" fill="#00ff00" fill-opacity="1.00"/>
<rect x="469.7" y="595.1" width="6.6" height="4.9" fill="#00ff00" fill-opacity="1.00"/>
<rect x="478.4" y="596.9" width="6.6" height="3.1" fill="#00ff00" fill-opacity="1.00"/>
<rect x="487.2" y="598.3" width="6.6" height="1.7" fill="#00ff00" fill-opacity="1.00"/>
<rect x="496.0" y="598.6" width="6.6" height="1.4" fill="#00ff00" fill-opacity="1.00"/>
<rect x="504.7" y="598.3" width="6.6" height="1.7" fill="#00ff00" fill-opacity="1.00"/>
<rect x="513.5" y="598.3" width="6.6" height="1.7" fill="#00ff00" fill-opacity="1.00"/>
<rect x="522.3" y="598.3" width="6.6" height="1.7" fill="#00ff00" fill-opacity="1.00"/>
<rect x="531.0" y="597.6" width="6.6" height="2.4" fill="#00ff00" fill-opacity="1.00"/>
<rect x="539.8" y="598.4" width="6.6" height="1.6" fill="#00ff00" fill-opacity="1.00"/>
<rect x="548.6" y="599.0" width="6.6" height="1.0" fill="#00ff00" fill-opacity="0.12"/>
<rect x="557.3" y="600.0" width="6.6" height="2.0" fill="#ff0000" fill-opacity="1.00"/>
<rect x="566.1" y="600.0" width="6.6" height="2.6" fill="#ff0000" fill-opacity="1.00"/>
<rect x="583.6" y="600.0" width="6.6" height="1.0" fill="#ff0000" fill-opacity="0.44"/>
<rect x="592.4" y="600.0" width="6.6" height="4.9" fill="#ff0000" fill-opacity="1.00"/>
<rect x="601.2" y="600.0" width="6.6" height="9.6" fill="#ff0000" fill-opacity="1.00"/>
<rect x="609.9" y="600.0" width="6.6" height="11.9" fill="#ff0000" fill-opacity="1.00"/>
<rect x="618.7" y="600.0" width="6.6" height="13.6" fill="#ff0000" fill-opacity="1.00"/>
<rect x="627.5" y="600.0" width="6.6" height="14.0" fill="#ff0000" fill-opacity="1.00"/>
<rect x="636.3" y="600.0" width="6.6" height="14.9" fill="#ff0000" fill-opacity="1.00"/>
<rect x="645.0" y="600.0" width="6.6" height="13.5" fill="#ff0000" fill-opacity="1.00"/>
<rect x="653.8" y="600.0" width="6.6" height="11.9" fill="#ff0000" fill-opacity="1.00"/>
<rect x="662.6" y="600.0" width="6.6" height="11.5" fill="#ff0000" fill-opacity="1.00"/>
<rect x="671.3" y="600.0" width="6.6" height="11.4" fill="#ff0000" fill-opacity="1.00"/>
<rect x="680.1" y="600.0" width="6.6" height="10.1" fill="#ff0000" fill-opacity="1.00"/>
<rect x="688.9" y="600.0" width="6.6" height="9.1" fill="#ff0000" fill-opacity="1.00"/>
<rect x="697.6" y="600.0" width="6.6" height="9.3" fill="#ff0000" fill-opacity="1.00"/>
<rect x="706.4" y="600.0" width="6.6" height="9.8" fill="#ff0000" fill-opacity="1.00"/>
<rect x="715.2" y="600.0" width="6.6" height="9.6" fill="#ff0000" fill-opacity="1.00"/>
<rect x="723.9" y="600.0" width="6.6" height="10.7" fill="#ff0000" fill-opacity="1.00"/>
<rect x="732.7" y="600.0" width="6.6" height="9.1" fill="#ff0000" fill-opacity="1.00"/>
<rect x="741.5" y="600.0" width="6.6" height="8.0" fill="#ff0000" fill-opacity="1.00"/>
<rect x="750.2" y="600.0" width="6.6" height="4.7" fill="#ff0000" fill-opacity="1.00"/>
<rect x="759.0" y="600.0" width="6.6" height="3.8" fill="#ff0000" fill-opacity="1.00"/>
<rect x="767.8" y="600.0" width="6.6" height="2.3" fill="#ff0000" fill-opacity="1.00"/>
<rect x="776.5" y="599.0" width="6.6" height="1.0" fill="#00ff00" fill-opacity="0.31"/>
<rect x="785.3" y="600.0" width="6.6" height="1.7" fill="#ff0000" fill-opacity="1.00"/>
<rect x="794.1" y="600.0" width="6.6" height="2.6" fill="#ff0000" fill-opacity="1.00"/>
<rect x="802.8" y="600.0" width="6.6" height="2.3" fill="#ff0000" fill-opacity="1.00"/>
<rect x="811.6" y="599.0" width="6.6" height="1.0" fill="#00ff00" fill-opacity="0.19"/>
<rect x="820.4" y="595.6" width="6.6" height="4.4" fill="#00ff00" fill-opacity="1.00"/>
<rect x="829.1" y="593.4" width="6.6" height="6.6" fill="#00ff00" fill-opacity="1.00"/>
<rect x="837.9" y="596.2" width="6.6" height="3.8" fill="#00ff00" fill-opacity="1.00"/>
<rect x="846.7" y="597.4" width="6.6" height="2.6" fill="#00ff00" fill-opacity="1.00"/>
<rect x="855.5" y="596.2" width="6.6" height="3.8" fill="#00ff00" fill-opacity="1.00"/>
<rect x="864.2" y="594.4" width="6.6" height="5.6" fill="#00ff00" fill-opacity="1.00"/>
<rect x="873.0" y="592.1" width="6.6" height="7.9" fill="#00ff00" fill-opacity="1.00"/>
<rect x="881.8" y="588.6" width="6.6" height="11.4" fill="#00ff00" fill-opacity="1.00"/>
<rect x="890.5" y="587.4" width="6.6" height="12.6" fill="#00ff00" fill-opacity="1.00"/>
<rect x="899.3" y="589.9" width="6.6" height="10.1" fill="#00ff00" fill-opacity="1.00"/>
<rect x="908.1" y="590.7" width="6.6" height="9.3" fill="#00ff00" fill-opacity="1.00"/>
<rect x="916.8" y="590.4" width="6.6" height="9.6" fill="#00ff00" fill-opacity="1.00"/>
<rect x="925.6" y="590.7" width="6.6" height="9.3" fill="#00ff00" fill-opacity="1.00"/>
<rect x="934.4" y="589.9" width="6.6" height="10.1" fill="#00ff00" fill-opacity="1.00"/>
<rect x="943.1" y="591.8" width="6.6" height="8.2" fill="#00ff00" fill-opacity="1.00"/>
<rect x="951.9" y="591.8" width="6.6" height="8.2" fill="#00ff00" fill-opacity="1.00"/>
<rect x="960.7" y="590.9" width="6.6" height="9.1" fill="#00ff00" fill-opacity="1.00"/>
<rect x="969.4" y="592.5" width="6.6" height="7.5" fill="#00ff00" fill-opacity="1.00"/>
<rect x="978.2" y="593.5" width="6.6" height="6.5" fill="#00ff00" fill-opacity="1.00"/>
<rect x="987.0" y="595.1" width="6.6" height="4.9" fill="#00ff00" fill-opacity="1.00"/>
<rect x="995.7" y="597.9" width="6.6" height="2.1" fill="#00ff00" fill-opacity="1.00"/>
<rect x="1004.5" y="598.3" width="6.6" height="1.7" fill="#00ff00" fill-opacity="1.00"/>
<rect x="1013.3" y="596.9" width="6.6" height="3.1" fill="#00ff00" fill-opacity="1.00"/>
<rect x="1022.0" y="594.8" width="6.6" height="5.2" fill="#00ff00" fill-opacity="1.00"/>
<rect x="1030.8" y="595.3" width="6.6" height="4.7" fill="#00ff00" fill-opacity="1.00"/>
<rect x="1039.6" y="598.3" width="6.6" height="1.7" fill="#00ff00" fill-opacity="1.00"/>
<rect x="1048.3" y="599.0" width="6.6" height="1.0" fill="#00ff00" fill-opacity="1.00"/>
<rect x="1057.1" y="600.0" width="6.6" height="1.0" fill="#ff0000" fill-opacity="0.31"/>
<rect x="1065.9" y="600.0" width="6.6" height="1.2" fill="#ff0000" fill-opacity="1.00"/>
<rect x="1074.7" y="600.0" width="6.6" height="1.2" fill="#ff0000" fill-opacity="1.00"/>
<rect x="-2" y="655.6" width="1080.6" height="15.8" fill="#70f570"/>
<rect x="-2" y="692.0" width="1080.6" height="16.5" fill="#f87074"/>
<path d="M-2,671.4 L1078.6,671.4 L1078.6,655.6" fill="none" stroke="#2a702a" stroke-width="1.15"/>
<path d="M-2,692.0 L1078.6,692.0 L1078.6,708.5" fill="none" stroke="#8c3436" stroke-width="1.15"/>
<line x1="78.4" y1="655.6" x2="78.4" y2="671" stroke="#6aec6a" stroke-width="1"/>
<line x1="78.4" y1="692" x2="78.4" y2="708.3" stroke="#f06a6e" stroke-width="1"/>
<line x1="192.4" y1="655.6" x2="192.4" y2="671" stroke="#6aec6a" stroke-width="1"/>
<line x1="192.4" y1="692" x2="192.4" y2="708.3" stroke="#f06a6e" stroke-width="1"/>
<line x1="297.7" y1="655.6" x2="297.7" y2="671" stroke="#6aec6a" stroke-width="1"/>
<line x1="297.7" y1="692" x2="297.7" y2="708.3" stroke="#f06a6e" stroke-width="1"/>
<line x1="385.3" y1="655.6" x2="385.3" y2="671" stroke="#6aec6a" stroke-width="1"/>
<line x1="385.3" y1="692" x2="385.3" y2="708.3" stroke="#f06a6e" stroke-width="1"/>
<line x1="472.7" y1="655.6" x2="472.7" y2="671" stroke="#6aec6a" stroke-width="1"/>
<line x1="472.7" y1="692" x2="472.7" y2="708.3" stroke="#f06a6e" stroke-width="1"/>
<line x1="577.7" y1="655.6" x2="577.7" y2="671" stroke="#6aec6a" stroke-width="1"/>
<line x1="577.7" y1="692" x2="577.7" y2="708.3" stroke="#f06a6e" stroke-width="1"/>
<line x1="648.1" y1="655.6" x2="648.1" y2="671" stroke="#6aec6a" stroke-width="1"/>
<line x1="648.1" y1="692" x2="648.1" y2="708.3" stroke="#f06a6e" stroke-width="1"/>
<line x1="753.3" y1="655.6" x2="753.3" y2="671" stroke="#6aec6a" stroke-width="1"/>
<line x1="753.3" y1="692" x2="753.3" y2="708.3" stroke="#f06a6e" stroke-width="1"/>
<line x1="867.3" y1="655.6" x2="867.3" y2="671" stroke="#6aec6a" stroke-width="1"/>
<line x1="867.3" y1="692" x2="867.3" y2="708.3" stroke="#f06a6e" stroke-width="1"/>
<line x1="954.8" y1="655.6" x2="954.8" y2="671" stroke="#6aec6a" stroke-width="1"/>
<line x1="954.8" y1="692" x2="954.8" y2="708.3" stroke="#f06a6e" stroke-width="1"/>
<line x1="0" y1="682.4" x2="1085.7" y2="682.4" stroke="#e7e7e7" stroke-width="1"/>
<path d="M0.0,681.4 L16.8,685.4 L26.3,678.7 L43.1,675.7 L51.8,678.4 L60.6,674.6 L69.3,671.5 L78.5,672.9 L87.5,672.4 L95.6,671.3 L104.3,672.6 L113.1,674.4 L122.5,677.1 L131.3,675.3 L140.0,673.6 L156.9,673.6 L166.0,676.3 L173.9,676.9 L192.4,671.7 L201.0,671.7 L210.0,674.2 L217.9,674.9 L236.0,672.9 L245.0,674.0 L254.1,674.0 L262.0,671.3 L270.6,670.2 L278.9,673.1 L288.0,674.7 L306.0,674.0 L315.1,674.2 L324.1,675.4 L332.0,674.7 L341.0,674.7 L350.1,673.6 L358.7,675.8 L367.0,673.6 L376.0,672.0 L384.0,674.2 L393.4,681.5 L402.4,678.7 L411.5,682.6 L420.5,678.1 L429.5,675.1 L446.5,674.7 L455.5,672.0 L464.5,673.1 L472.4,673.6 L481.5,675.1 L490.5,675.4 L499.6,674.0 L508.6,673.1 L525.5,672.4 L534.6,670.8 L543.6,673.1 L560.5,676.3 L569.6,674.7 L577.9,670.6 L586.5,675.4 L595.6,681.5 L603.5,683.3 L621.5,684.2 L630.6,683.0 L639.6,685.3 L647.9,683.3 L656.9,682.1 L666.0,684.4 L675.0,685.3 L684.0,683.7 L693.1,684.4 L701.0,686.4 L710.0,688.2 L717.9,688.2 L727.0,690.5 L736.0,686.4 L745.0,687.6 L753.6,682.1 L762.0,685.3 L780.0,681.5 L789.1,686.4 L798.1,686.4 L806.0,684.8 L815.1,682.1 L824.1,678.5 L832.0,678.5 L841.0,684.4 L850.1,683.0 L867.0,679.2 L876.0,677.4 L885.1,674.7 L893.0,675.8 L902.4,679.4 L919.4,676.4 L929.5,676.4 L937.4,674.2 L946.5,677.8 L963.4,673.7 L972.4,676.4 L981.5,676.0 L989.4,676.7 L999.6,679.4 L1016.5,674.4 L1025.5,673.3 L1042.5,678.9 L1051.5,677.1 L1059.4,678.2 L1078.2,676.7" fill="none" stroke="#3a4ff5" stroke-width="1.2" stroke-linejoin="round" stroke-linecap="round" stroke-opacity="1"/>
<line x1="240.1" y1="535.50" x2="257.9" y2="535.50" stroke="#6c6868" stroke-width="1.05"/>
<line x1="240.1" y1="537.55" x2="257.9" y2="537.55" stroke="#8e8e8e" stroke-width="1.05"/>
<line x1="240.1" y1="539.40" x2="257.9" y2="539.40" stroke="#b6b6b6" stroke-width="1.05"/>
<line x1="240.1" y1="648.50" x2="257.9" y2="648.50" stroke="#8c8886" stroke-width="1.05"/>
<line x1="240.1" y1="650.55" x2="257.9" y2="650.55" stroke="#6a6666" stroke-width="1.05"/>
<line x1="240.1" y1="652.50" x2="257.9" y2="652.50" stroke="#706c6c" stroke-width="1.05"/>
<text transform="translate(1093.0,3.85) scale(1,1.06)" font-size="9.9" fill="#4a4a4a" stroke="#4a4a4a" stroke-width="0.25">1.1100</text>
<text transform="translate(1093.0,42.05) scale(1,1.06)" font-size="9.9" fill="#4a4a4a" stroke="#4a4a4a" stroke-width="0.25">1.1000</text>
<text transform="translate(1093.0,78.85) scale(1,1.06)" font-size="9.9" fill="#4a4a4a" stroke="#4a4a4a" stroke-width="0.25">1.0900</text>
<text transform="translate(1093.0,116.75) scale(1,1.06)" font-size="9.9" fill="#4a4a4a" stroke="#4a4a4a" stroke-width="0.25">1.0800</text>
<text transform="translate(1093.0,153.85) scale(1,1.06)" font-size="9.9" fill="#4a4a4a" stroke="#4a4a4a" stroke-width="0.25">1.0700</text>
<text transform="translate(1093.0,191.55) scale(1,1.06)" font-size="9.9" fill="#4a4a4a" stroke="#4a4a4a" stroke-width="0.25">1.0600</text>
<text transform="translate(1093.0,229.05) scale(1,1.06)" font-size="9.9" fill="#4a4a4a" stroke="#4a4a4a" stroke-width="0.25">1.0500</text>
<text transform="translate(1093.0,266.25) scale(1,1.06)" font-size="9.9" fill="#4a4a4a" stroke="#4a4a4a" stroke-width="0.25">1.0400</text>
<text transform="translate(1093.0,303.95) scale(1,1.06)" font-size="9.9" fill="#4a4a4a" stroke="#4a4a4a" stroke-width="0.25">1.0300</text>
<text transform="translate(1093.0,341.55) scale(1,1.06)" font-size="9.9" fill="#4a4a4a" stroke="#4a4a4a" stroke-width="0.25">1.0200</text>
<text transform="translate(1093.0,378.95) scale(1,1.06)" font-size="9.9" fill="#4a4a4a" stroke="#4a4a4a" stroke-width="0.25">1.0100</text>
<text transform="translate(1093.0,416.75) scale(1,1.06)" font-size="9.9" fill="#4a4a4a" stroke="#4a4a4a" stroke-width="0.25">1.0000</text>
<text transform="translate(1093.0,453.85) scale(1,1.06)" font-size="9.9" fill="#4a4a4a" stroke="#4a4a4a" stroke-width="0.25">0.9900</text>
<text transform="translate(1093.0,491.15) scale(1,1.06)" font-size="9.9" fill="#4a4a4a" stroke="#4a4a4a" stroke-width="0.25">0.9800</text>
<text transform="translate(1093.0,528.95) scale(1,1.06)" font-size="9.9" fill="#4a4a4a" stroke="#4a4a4a" stroke-width="0.25">0.9700</text>
<text transform="translate(1093.0,560.15) scale(1,1.06)" font-size="9.9" fill="#4a4a4a" stroke="#4a4a4a" stroke-width="0.25">0.0100</text>
<text transform="translate(1093.0,581.65) scale(1,1.06)" font-size="9.9" fill="#4a4a4a" stroke="#4a4a4a" stroke-width="0.25">0.0050</text>
<text transform="translate(1093.0,603.55) scale(1,1.06)" font-size="9.9" fill="#4a4a4a" stroke="#4a4a4a" stroke-width="0.25">-0.0000</text>
<text transform="translate(1093.0,625.55) scale(1,1.06)" font-size="9.9" fill="#4a4a4a" stroke="#4a4a4a" stroke-width="0.25">-0.0050</text>
<text transform="translate(1093.0,647.45) scale(1,1.06)" font-size="9.9" fill="#4a4a4a" stroke="#4a4a4a" stroke-width="0.25">-0.0100</text>
<text transform="translate(1093.0,685.25) scale(1,1.06)" font-size="9.9" fill="#4a4a4a" stroke="#4a4a4a" stroke-width="0.25">50.0000</text>
<text transform="translate(1093.0,710.85) scale(1,1.06)" font-size="9.9" fill="#4a4a4a" stroke="#4a4a4a" stroke-width="0.25">0.0000</text>
<path d="M1089.1,43.05 L1093.2,37.2 L1137.4,37.2 L1137.4,48.9 L1093.2,48.9 Z" fill="#26426b"/>
<text transform="translate(1093.3,46.9)" font-size="9.9" font-weight="bold" fill="#fff" stroke="#fff" stroke-width="0.2">1.098710</text>
<text transform="translate(-1.0,724.0)" font-size="9.9" font-weight="bold" text-anchor="middle" fill="#4a4a4a" stroke="#4a4a4a" stroke-width="0.4">Nov</text>
<text transform="translate(78.3,724.0)" font-size="9.9" text-anchor="middle" fill="#6a6a6a" stroke="#6a6a6a" stroke-width="0.2">14</text>
<text transform="translate(192,724.0)" font-size="9.9" font-weight="bold" text-anchor="middle" fill="#4a4a4a" stroke="#4a4a4a" stroke-width="0.4">Dec</text>
<text transform="translate(298,724.0)" font-size="9.9" text-anchor="middle" fill="#6a6a6a" stroke="#6a6a6a" stroke-width="0.2">19</text>
<text transform="translate(385.3,724.0)" font-size="9.9" font-weight="bold" text-anchor="middle" fill="#4a4a4a" stroke="#4a4a4a" stroke-width="0.4">2023</text>
<text transform="translate(472.7,724.0)" font-size="9.9" text-anchor="middle" fill="#6a6a6a" stroke="#6a6a6a" stroke-width="0.2">16</text>
<text transform="translate(577.7,724.0)" font-size="9.9" font-weight="bold" text-anchor="middle" fill="#4a4a4a" stroke="#4a4a4a" stroke-width="0.4">Feb</text>
<text transform="translate(648.1,724.0)" font-size="9.9" text-anchor="middle" fill="#6a6a6a" stroke="#6a6a6a" stroke-width="0.2">13</text>
<text transform="translate(753.3,724.0)" font-size="9.9" font-weight="bold" text-anchor="middle" fill="#4a4a4a" stroke="#4a4a4a" stroke-width="0.4">Mar</text>
<text transform="translate(867.3,724.0)" font-size="9.9" text-anchor="middle" fill="#6a6a6a" stroke="#6a6a6a" stroke-width="0.2">20</text>
<text transform="translate(954.0,724.0)" font-size="9.9" font-weight="bold" text-anchor="middle" fill="#4a4a4a" stroke="#4a4a4a" stroke-width="0.4">Apr</text>
<text transform="translate(1077.6,724.0)" font-size="9.9" text-anchor="middle" fill="#6a6a6a" stroke="#6a6a6a" stroke-width="0.2">21</text>
<line x1="0" y1="740.3" x2="1151" y2="740.3" stroke="#e4e6ec" stroke-width="1"/>
</svg></body></html>
